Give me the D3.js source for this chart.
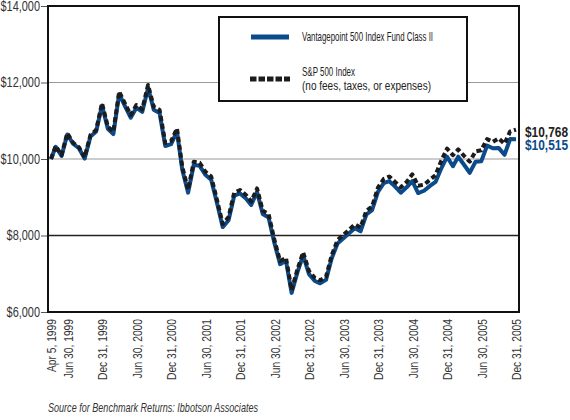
<!DOCTYPE html>
<html><head><meta charset="utf-8">
<script src="https://cdn.jsdelivr.net/npm/d3@7"></script>
<style>
html,body{margin:0;padding:0;background:#fff;}
svg{display:block;}
text{font-family:"Liberation Sans",Arial,sans-serif;}
</style></head>
<body>
<svg id="chart" width="570" height="420"></svg>
<script>
const dates = ["1999-04-05","1999-04-30","1999-05-31","1999-06-30","1999-07-31","1999-08-31","1999-09-30","1999-10-31","1999-11-30","1999-12-31",
"2000-01-31","2000-02-29","2000-03-31","2000-04-30","2000-05-31","2000-06-30","2000-07-31","2000-08-31","2000-09-30","2000-10-31","2000-11-30","2000-12-31",
"2001-01-31","2001-02-28","2001-03-31","2001-04-30","2001-05-31","2001-06-30","2001-07-31","2001-08-31","2001-09-30","2001-10-31","2001-11-30","2001-12-31",
"2002-01-31","2002-02-28","2002-03-31","2002-04-30","2002-05-31","2002-06-30","2002-07-31","2002-08-31","2002-09-30","2002-10-31","2002-11-30","2002-12-31",
"2003-01-31","2003-02-28","2003-03-31","2003-04-30","2003-05-31","2003-06-30","2003-07-31","2003-08-31","2003-09-30","2003-10-31","2003-11-30","2003-12-31",
"2004-01-31","2004-02-29","2004-03-31","2004-04-30","2004-05-31","2004-06-30","2004-07-31","2004-08-31","2004-09-30","2004-10-31","2004-11-30","2004-12-31",
"2005-01-31","2005-02-28","2005-03-31","2005-04-30","2005-05-31","2005-06-30","2005-07-31","2005-08-31","2005-09-30","2005-10-31","2005-11-30","2005-12-31"];

const sp500 = [10000,10340,10105,10672,10426,10306,10044,10627,10758,11456,
10845,10714,11760,11456,11150,11412,11300,11935,11368,11281,10420,10470,
10800,9800,9200,9930,9900,9670,9540,8930,8300,8480,9120,9190,
9060,8890,9230,8650,8560,7900,7330,7420,6570,7120,7560,7070,
6890,6830,6920,7480,7880,8010,8150,8290,8210,8650,8760,9250,
9480,9540,9400,9260,9400,9600,9300,9330,9450,9580,9950,10270,
10100,10250,10080,9930,10200,10230,10520,10450,10540,10400,10720,10768];

const fund = [10000,10320,10080,10640,10400,10280,10010,10590,10720,11400,
10790,10650,11700,11390,11080,11340,11230,11860,11290,11200,10340,10390,
10720,9720,9120,9850,9820,9590,9460,8850,8220,8400,9040,9100,
8970,8800,9140,8560,8470,7820,7250,7340,6500,7040,7480,6990,
6810,6750,6840,7400,7790,7920,8060,8190,8110,8550,8660,9140,
9370,9420,9280,9120,9260,9420,9110,9170,9290,9400,9750,10060,
9810,10060,9850,9640,9930,9940,10350,10280,10290,10110,10520,10515];

const yTicks = [6000,8000,10000,12000,14000];
const xTickDates = ["1999-04-05","1999-06-30","1999-12-31","2000-06-30","2000-12-31","2001-06-30","2001-12-31","2002-06-30","2002-12-31","2003-06-30","2003-12-31","2004-06-30","2004-12-31","2005-06-30","2005-12-31"];
const xTickLabels = ["Apr 5, 1999","Jun 30, 1999","Dec 31, 1999","Jun 30, 2000","Dec 31, 2000","Jun 30, 2001","Dec 31, 2001","Jun 30, 2002","Dec 31, 2002","Jun 30, 2003","Dec 31, 2003","Jun 30, 2004","Dec 31, 2004","Jun 30, 2005","Dec 31, 2005"];
const seriesNames = ["Vantagepoint 500 Index Fund Class II","S&P 500 Index","(no fees, taxes, or expenses)"];
const endLabels = ["$10,768","$10,515"];
const sourceNote = "Source for Benchmark Returns: Ibbotson Associates";

(function(){
const parse = d3.timeParse("%Y-%m-%d");
const svg = d3.select("#chart");
const L = 48, R = 519, T = 6, B = 312;
const BLUE = "#0b4a8b";
const FONT = "'Liberation Sans',Arial,sans-serif";

function squeeze(sel, factor){
  sel.each(function(){
    const w = this.getComputedTextLength();
    this.setAttribute("textLength", (w*factor).toFixed(1));
    this.setAttribute("lengthAdjust", "spacingAndGlyphs");
  });
}
function fitTo(node, w){
  node.setAttribute("textLength", w);
  node.setAttribute("lengthAdjust", "spacingAndGlyphs");
}

const x = d3.scaleTime().domain([parse(dates[0]), parse(dates[dates.length-1])]).range([51, 516]);
const y = d3.scaleLinear().domain([6000,14000]).range([B, T]);

// gridlines
svg.append("g").selectAll("line").data(yTicks.filter(v=>v>6000 && v<14000)).join("line")
  .attr("x1", L).attr("x2", R)
  .attr("y1", d=>y(d)).attr("y2", d=>y(d))
  .attr("stroke", d=> d===8000 ? "#222" : "#9a9a9a")
  .attr("stroke-width", d=> d===8000 ? 1.3 : 1.2);

// y axis
const yAxis = d3.axisLeft(y).tickValues(yTicks).tickSize(7).tickPadding(1)
  .tickFormat(d => "$" + d3.format(",")(d));
const gy = svg.append("g").attr("transform", `translate(${L},0)`).call(yAxis);
gy.select(".domain").remove();
gy.selectAll(".tick line").attr("stroke", "#555").attr("stroke-width", 1);
const yt = gy.selectAll(".tick text").attr("font-size", 14).attr("fill", "#333").attr("font-family", FONT);
squeeze(yt, 0.78);

// x axis labels
const xAxis = d3.axisBottom(x).tickValues(xTickDates.map(parse)).tickSize(0)
  .tickFormat((d,i) => xTickLabels[i]);
const gx = svg.append("g").attr("transform", `translate(0,${B})`).call(xAxis);
gx.select(".domain").remove();
const xt = gx.selectAll(".tick text")
  .attr("font-size", 13.5).attr("fill", "#333").attr("font-family", FONT)
  .attr("text-anchor", "end")
  .attr("transform", "rotate(-90)")
  .attr("x", -7).attr("y", 0).attr("dy", "0.36em");
squeeze(xt, 0.76);

// lines
const pts = (vals) => dates.map((d,i)=>[x(parse(d)), y(vals[i])]);
const lineGen = d3.line().curve(d3.curveLinear);
svg.append("path").attr("d", lineGen(pts(fund)))
  .attr("fill","none").attr("stroke", BLUE).attr("stroke-width", 4).attr("stroke-linejoin","round");
svg.append("path").attr("d", lineGen(pts(sp500)))
  .attr("fill","none").attr("stroke", "#1c1c1c").attr("stroke-width", 4)
  .attr("stroke-dasharray","5,3").attr("stroke-linejoin","round");

// frame
svg.append("rect").attr("x", L).attr("y", T).attr("width", R-L).attr("height", B-T)
  .attr("fill","none").attr("stroke","#111").attr("stroke-width", 2);

// legend
const lg = svg.append("g");
lg.append("rect").attr("x", 219).attr("y", 17).attr("width", 248).attr("height", 84)
  .attr("fill","#fff").attr("stroke","#111").attr("stroke-width", 2);
lg.append("line").attr("x1", 251).attr("x2", 289).attr("y1", 37).attr("y2", 37)
  .attr("stroke", BLUE).attr("stroke-width", 5);
lg.append("line").attr("x1", 250).attr("x2", 290).attr("y1", 79).attr("y2", 79)
  .attr("stroke", "#1c1c1c").attr("stroke-width", 5).attr("stroke-dasharray","6.5,2");
const l1 = lg.append("text").attr("x", 302).attr("y", 41).attr("font-size", 13).attr("fill","#222").text(seriesNames[0]);
const l2 = lg.append("text").attr("x", 302).attr("y", 76).attr("font-size", 13).attr("fill","#222").text(seriesNames[1]);
const l3 = lg.append("text").attr("x", 302).attr("y", 90).attr("font-size", 12.5).attr("fill","#222").text(seriesNames[2]);
fitTo(l1.node(), 131); fitTo(l2.node(), 53); fitTo(l3.node(), 129);

// end labels
const e1 = svg.append("text").attr("x", 525).attr("y", 137).attr("font-size", 15).attr("font-weight","bold")
  .attr("fill","#222").text(endLabels[0]);
const e2 = svg.append("text").attr("x", 525).attr("y", 150).attr("font-size", 15).attr("font-weight","bold")
  .attr("fill",BLUE).text(endLabels[1]);
fitTo(e1.node(), 43); fitTo(e2.node(), 43);

// source note
const sn = svg.append("text").attr("x", 48).attr("y", 412).attr("font-size", 13.5).attr("font-style","italic")
  .attr("fill","#333").text(sourceNote);
fitTo(sn.node(), 210);
})();
</script>
</body></html>
